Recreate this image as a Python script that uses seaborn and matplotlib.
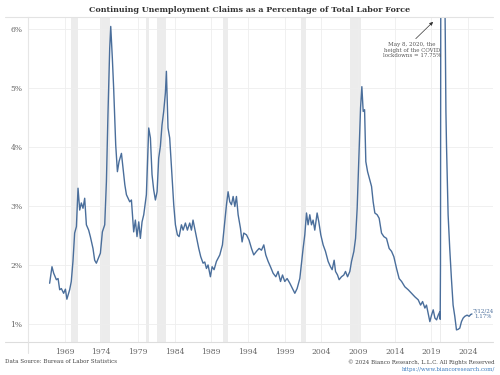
import numpy as np
import pandas as pd
import seaborn as sns
import matplotlib
matplotlib.use("Agg")
import matplotlib.pyplot as plt
from matplotlib.lines import Line2D

# --- Daten ---
years = [
    1966.95, 1967.27, 1967.50, 1967.87, 1968.10, 1968.32, 1968.55, 1968.86, 1969.10, 1969.30,
    1969.68, 1969.90, 1970.13, 1970.36, 1970.60, 1970.82, 1971.05, 1971.27, 1971.50, 1971.73,
    1971.96, 1972.27, 1972.50, 1972.86, 1973.09, 1973.32, 1973.68, 1973.87, 1974.14, 1974.46,
    1974.69, 1974.90, 1975.14, 1975.28, 1975.50, 1975.68, 1975.96, 1976.19, 1976.41, 1976.74,
    1976.96, 1977.20, 1977.42, 1977.87, 1978.10, 1978.41, 1978.64, 1978.86, 1979.10, 1979.32,
    1979.55, 1979.78, 1980.14, 1980.46, 1980.69, 1980.91, 1981.14, 1981.37, 1981.60, 1981.82,
    1982.05, 1982.27, 1982.50, 1982.73, 1982.87, 1983.09, 1983.32, 1983.55, 1983.87, 1984.10,
    1984.37, 1984.60, 1984.92, 1985.15, 1985.46, 1985.73, 1986.05, 1986.28, 1986.50, 1986.73,
    1986.96, 1987.28, 1987.55, 1987.87, 1988.10, 1988.33, 1988.55, 1988.87, 1989.10, 1989.37,
    1989.69, 1990.15, 1990.51, 1990.83, 1991.06, 1991.28, 1991.51, 1991.74, 1991.97, 1992.20,
    1992.42, 1992.65, 1992.97, 1993.19, 1993.42, 1993.79, 1994.14, 1994.47, 1994.78, 1995.15,
    1995.51, 1995.83, 1996.15, 1996.42, 1996.74, 1997.06, 1997.42, 1997.79, 1998.10, 1998.43,
    1998.70, 1999.01, 1999.33, 1999.70, 2000.06, 2000.38, 2000.69, 2001.06, 2001.29, 2001.51,
    2001.74, 2001.97, 2002.19, 2002.42, 2002.65, 2002.87, 2003.10, 2003.42, 2003.65, 2003.92,
    2004.24, 2004.56, 2004.92, 2005.24, 2005.47, 2005.74, 2005.93, 2006.20, 2006.42, 2006.74,
    2007.06, 2007.29, 2007.57, 2007.88, 2008.11, 2008.43, 2008.66, 2008.88, 2009.11, 2009.34,
    2009.52, 2009.70, 2009.89, 2010.06, 2010.30, 2010.61, 2010.84, 2011.06, 2011.29, 2011.61,
    2011.88, 2012.20, 2012.52, 2012.88, 2013.24, 2013.57, 2013.88, 2014.25, 2014.60, 2014.94,
    2015.38, 2015.84, 2016.30, 2016.75, 2017.20, 2017.53, 2017.80, 2018.11, 2018.33, 2018.56,
    2018.79, 2019.02, 2019.25, 2019.48, 2019.71, 2019.93, 2020.16, 2020.20, 2020.24, 2020.27,
    2020.30, 2020.35, 2020.50, 2020.65, 2020.80, 2020.90, 2020.98, 2021.06, 2021.28, 2021.50,
    2021.73, 2021.96, 2022.19, 2022.42, 2022.65, 2022.87, 2023.10, 2023.33, 2023.56, 2023.87,
    2024.14, 2024.35, 2024.53,
]
claims_pct = [
    1.69, 1.97, 1.86, 1.75, 1.77, 1.58, 1.60, 1.52, 1.59, 1.42,
    1.58, 1.72, 2.06, 2.54, 2.65, 3.30, 2.93, 3.05, 2.96, 3.13,
    2.68, 2.59, 2.48, 2.28, 2.08, 2.03, 2.14, 2.20, 2.56, 2.68,
    3.41, 4.54, 5.67, 6.04, 5.50, 4.99, 4.03, 3.58, 3.75, 3.89,
    3.64, 3.36, 3.19, 3.07, 3.10, 2.56, 2.76, 2.48, 2.73, 2.45,
    2.73, 2.85, 3.19, 4.32, 4.15, 3.53, 3.27, 3.10, 3.24, 3.81,
    4.01, 4.37, 4.60, 4.91, 5.28, 4.32, 4.15, 3.69, 3.02, 2.68,
    2.51, 2.48, 2.68, 2.59, 2.71, 2.59, 2.71, 2.59, 2.76, 2.62,
    2.48, 2.28, 2.14, 2.03, 2.05, 1.94, 2.00, 1.80, 1.97, 1.92,
    2.06, 2.17, 2.34, 2.73, 3.02, 3.24, 3.07, 3.02, 3.16, 2.99,
    3.16, 2.85, 2.62, 2.39, 2.54, 2.51, 2.42, 2.28, 2.17, 2.23,
    2.28, 2.25, 2.34, 2.17, 2.06, 1.97, 1.86, 1.80, 1.89, 1.72,
    1.83, 1.72, 1.77, 1.69, 1.60, 1.52, 1.60, 1.77, 2.03, 2.28,
    2.51, 2.88, 2.68, 2.85, 2.68, 2.76, 2.59, 2.88, 2.73, 2.51,
    2.34, 2.23, 2.06, 1.97, 1.92, 2.08, 1.89, 1.83, 1.75, 1.80,
    1.83, 1.89, 1.80, 1.89, 2.06, 2.23, 2.45, 2.96, 3.81, 4.66,
    5.02, 4.60, 4.63, 3.75, 3.58, 3.44, 3.33, 3.07, 2.88, 2.85,
    2.79, 2.54, 2.48, 2.45, 2.28, 2.23, 2.14, 1.94, 1.77, 1.72,
    1.63, 1.58, 1.52, 1.46, 1.41, 1.32, 1.38, 1.27, 1.32, 1.18,
    1.04, 1.15, 1.24, 1.10, 1.07, 1.15, 1.21, 1.08, 2.00, 5.00,
    10.00, 17.75, 13.00, 9.00, 7.00, 5.80, 4.60, 4.03, 2.85, 2.28,
    1.77, 1.32, 1.13, 0.90, 0.91, 0.93, 1.04, 1.10, 1.13, 1.15,
    1.13, 1.16, 1.17,
]

# Rezessionen (Start, Ende)
rec_start = [1969.92, 1973.87, 1980.04, 1981.54, 1990.54, 2001.21, 2007.96, 2020.13]
rec_end = [1970.87, 1975.21, 1980.54, 1982.87, 1991.21, 2001.87, 2009.46, 2020.29]

x_ticks = [1969, 1974, 1979, 1984, 1989, 1994, 1999, 2004, 2009, 2014, 2019, 2024]
y_ticks = [1, 2, 3, 4, 5, 6]

df = pd.DataFrame({"year": years, "pct": claims_pct})

# --- Plot ---
sns.set_theme(style="white")
plt.rcParams["font.family"] = ["DejaVu Serif"]

line_color = "#4a6e9b"
text_gray = "#666666"

fig = plt.figure(figsize=(5, 3.75), dpi=100)
ax = fig.add_axes([0.056, 0.088, 0.93, 0.8667])

for s, e in zip(rec_start, rec_end):
    ax.axvspan(s, e, color="#ececec", lw=0, zorder=0)

sns.lineplot(data=df, x="year", y="pct", ax=ax, color=line_color, lw=1.0,
             estimator=None, sort=False, zorder=3)

ax.set_xlim(1964, 2027.4)
ax.set_ylim(0.695, 6.2)
ax.set_xticks(x_ticks)
ax.set_xticklabels([str(t) for t in x_ticks])
ax.set_yticks(y_ticks)
ax.set_yticklabels([f"{t}%" for t in y_ticks])
ax.tick_params(axis="both", labelsize=5.5, colors=text_gray, length=0, pad=4)
ax.set_xlabel("")
ax.set_ylabel("")
ax.grid(True, color="#eeeeee", lw=0.6, zorder=1)
for side in ["top", "right", "bottom"]:
    ax.spines[side].set_visible(False)
ax.spines["left"].set_color("#e6e6e6")
ax.spines["left"].set_linewidth(0.8)

# Rahmenlinien oben/unten
fig.add_artist(Line2D([0.01, 0.986], [0.9547, 0.9547], color="#e3e3e3", lw=0.8))
fig.add_artist(Line2D([0.01, 0.986], [0.088, 0.088], color="#dddddd", lw=0.8))
fig.add_artist(Line2D([0.056, 0.056], [0.058, 0.088], color="#e3e3e3", lw=0.8))

fig.text(0.5, 0.972, "Continuing Unemployment Claims as a Percentage of Total Labor Force",
         ha="center", va="center", fontsize=5.8, fontweight="bold", color="#333333")

# COVID-Annotation
ax.annotate("", xy=(2019.5, 6.15), xytext=(2016.6, 5.80),
            arrowprops=dict(arrowstyle="-|>", color="#333333", lw=0.5, mutation_scale=5))
ax.text(2016.35, 5.77, "May 8, 2020, the\nheight of the COVID\nlockdowns = 17.75%",
        ha="center", va="top", fontsize=4, color="#555555", linespacing=1.1)

# letzter Wert
ax.text(2026.1, 1.17, "7/12/24\n1.17%", ha="center", va="center", fontsize=4,
        color=line_color, linespacing=1.2)

fig.text(0.01, 0.035, "Data Source: Bureau of Labor Statistics", ha="left", va="center",
         fontsize=4, color="#444444")
fig.text(0.99, 0.035, "\u00a9 2024 Bianco Research, L.L.C. All Rights Reserved", ha="right",
         va="center", fontsize=4, color="#444444")
fig.text(0.99, 0.016, "https://www.biancoresearch.com/", ha="right", va="center",
         fontsize=4, color="#3a7bbf")

fig.savefig("out.png", dpi=100)
